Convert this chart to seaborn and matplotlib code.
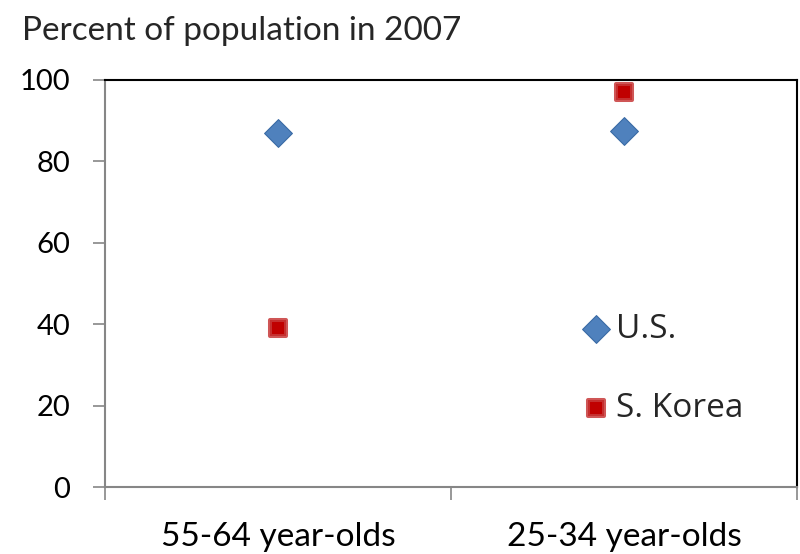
import matplotlib
matplotlib.use("Agg")
import matplotlib.pyplot as plt
import seaborn as sns
import pandas as pd
from matplotlib.ticker import FixedLocator

categories = ["55-64 year-olds", "25-34 year-olds"]
us_values = [87.0, 87.5]
korea_values = [39.0, 97.0]
series_names = ["U.S.", "S. Korea"]
yticks = [0, 20, 40, 60, 80, 100]

df = pd.DataFrame({
    "group": categories * 2,
    "value": us_values + korea_values,
    "country": [series_names[0]] * 2 + [series_names[1]] * 2,
})

sns.set_theme(style="white")
plt.rcParams["font.family"] = ["Lato", "DejaVu Sans"]

fig = plt.figure(figsize=(8.0, 5.54), dpi=100)
ax = fig.add_axes([0.13125, 0.1209, 0.865, 0.7347])

us = df[df.country == series_names[0]]
kr = df[df.country == series_names[1]]
sns.scatterplot(data=us, x="group", y="value", marker="D", s=200,
                color="#4F81BD", edgecolor="#3A6BA5", linewidth=0.8,
                ax=ax, label=series_names[0], zorder=3)
sns.scatterplot(data=kr, x="group", y="value", marker="s", s=135,
                color="#C00000", edgecolor=(0.78, 0.22, 0.22, 0.85), linewidth=2.9,
                ax=ax, label=series_names[1], zorder=3)

ax.set_xlim(-0.5, 1.5)
ax.set_ylim(0, 100)
ax.set_yticks(yticks)
ax.set_yticklabels([str(v) for v in yticks])
ax.set_xticks([0, 1])
ax.set_xticklabels(categories)
ax.xaxis.set_minor_locator(FixedLocator([-0.5, 0.5, 1.5]))
ax.tick_params(axis="x", which="major", length=0, pad=25, labelsize=24, colors="black")
ax.tick_params(axis="x", which="minor", length=9, width=1.2, color="#868686", direction="out", bottom=True)
ax.tick_params(axis="y", which="major", length=9, width=1.2, color="#868686", direction="out",
               left=True, pad=16, labelsize=21, labelcolor="black")
ax.set_xlabel("")
ax.set_ylabel("")

for side in ["top", "right"]:
    ax.spines[side].set_color("black")
    ax.spines[side].set_linewidth(1.5)
for side in ["left", "bottom"]:
    ax.spines[side].set_color("#868686")
    ax.spines[side].set_linewidth(1.5)

leg = ax.legend(loc="center left", bbox_to_anchor=(0.690, 0.29), frameon=False,
                prop={"family": ["Open Sans", "DejaVu Sans"], "size": 24},
                labelspacing=1.38, handletextpad=0.2, handlelength=0.8,
                borderaxespad=0, borderpad=0)

fig.text(0.027, 0.928, "Percent of population in 2007", fontsize=24, ha="left", va="baseline")

fig.savefig("out.png", dpi=100)
